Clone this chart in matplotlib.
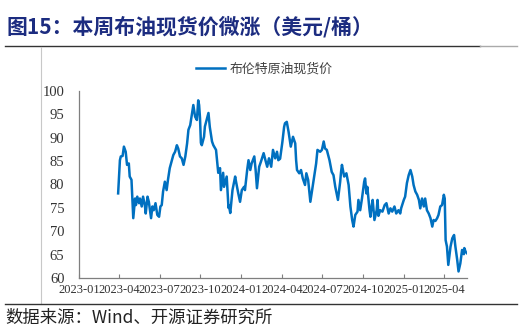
import pandas as pd
import matplotlib
matplotlib.use("Agg")
import matplotlib.pyplot as plt
import matplotlib.dates as mdates
from matplotlib.lines import Line2D

# Brent spot price (USD/bbl)
dates = [
    "2023-03-30", "2023-04-03", "2023-04-05", "2023-04-09", "2023-04-12", "2023-04-16",
    "2023-04-19", "2023-04-23", "2023-04-25", "2023-04-29", "2023-05-03", "2023-05-07",
    "2023-05-09", "2023-05-12", "2023-05-16", "2023-05-18", "2023-05-22", "2023-05-25",
    "2023-05-29", "2023-05-31", "2023-06-04", "2023-06-07", "2023-06-12", "2023-06-15",
    "2023-06-18", "2023-06-22", "2023-06-26", "2023-06-30", "2023-07-03", "2023-07-06",
    "2023-07-09", "2023-07-13", "2023-07-17", "2023-07-20", "2023-07-24", "2023-07-28",
    "2023-08-01", "2023-08-05", "2023-08-09", "2023-08-12", "2023-08-16", "2023-08-20",
    "2023-08-24", "2023-08-28", "2023-09-01", "2023-09-04", "2023-09-08", "2023-09-12",
    "2023-09-15", "2023-09-19", "2023-09-23", "2023-09-26", "2023-09-28", "2023-09-30",
    "2023-10-02", "2023-10-04", "2023-10-09", "2023-10-11", "2023-10-19", "2023-10-22",
    "2023-10-27", "2023-10-30", "2023-11-05", "2023-11-10", "2023-11-14", "2023-11-16",
    "2023-11-21", "2023-11-23", "2023-11-29", "2023-12-03", "2023-12-04", "2023-12-07",
    "2023-12-12", "2023-12-18", "2023-12-20", "2023-12-25", "2023-12-29", "2024-01-02",
    "2024-01-07", "2024-01-09", "2024-01-14", "2024-01-17", "2024-01-21", "2024-01-24",
    "2024-01-30", "2024-02-02", "2024-02-05", "2024-02-10", "2024-02-14", "2024-02-20",
    "2024-02-24", "2024-02-28", "2024-03-03", "2024-03-08", "2024-03-12", "2024-03-17",
    "2024-03-21", "2024-03-24", "2024-03-28", "2024-04-02", "2024-04-06", "2024-04-08",
    "2024-04-12", "2024-04-16", "2024-04-21", "2024-04-26", "2024-05-01", "2024-05-03",
    "2024-05-05", "2024-05-10", "2024-05-14", "2024-05-18", "2024-05-23", "2024-05-26",
    "2024-05-30", "2024-06-04", "2024-06-09", "2024-06-13", "2024-06-17", "2024-06-20",
    "2024-06-26", "2024-06-30", "2024-07-04", "2024-07-07", "2024-07-11", "2024-07-17",
    "2024-07-22", "2024-07-26", "2024-07-30", "2024-08-05", "2024-08-10", "2024-08-12",
    "2024-08-14", "2024-08-19", "2024-08-24", "2024-08-29", "2024-09-02", "2024-09-06",
    "2024-09-09", "2024-09-13", "2024-09-18", "2024-09-20", "2024-09-24", "2024-09-28",
    "2024-10-03", "2024-10-05", "2024-10-08", "2024-10-10", "2024-10-15", "2024-10-17",
    "2024-10-19", "2024-10-22", "2024-10-26", "2024-10-31", "2024-11-02", "2024-11-04",
    "2024-11-08", "2024-11-13", "2024-11-18", "2024-11-22", "2024-11-27", "2024-12-01",
    "2024-12-05", "2024-12-10", "2024-12-14", "2024-12-19", "2024-12-23", "2024-12-25",
    "2024-12-31", "2025-01-03", "2025-01-07", "2025-01-11", "2025-01-15", "2025-01-19",
    "2025-01-22", "2025-01-26", "2025-01-30", "2025-02-03", "2025-02-06", "2025-02-10",
    "2025-02-14", "2025-02-17", "2025-02-21", "2025-02-25", "2025-03-01", "2025-03-05",
    "2025-03-08", "2025-03-12", "2025-03-16", "2025-03-19", "2025-03-23", "2025-03-27",
    "2025-03-31", "2025-04-02", "2025-04-03", "2025-04-04", "2025-04-07", "2025-04-10",
    "2025-04-15", "2025-04-19", "2025-04-23", "2025-04-26", "2025-04-30", "2025-05-03",
    "2025-05-07", "2025-05-11", "2025-05-15", "2025-05-16", "2025-05-19", "2025-05-22",
]
prices = [
    78.1, 85.2, 86.0, 86.1, 88.1, 87.0,
    84.2, 84.5, 81.7, 81.0, 72.8, 77.0,
    75.6, 77.4, 76.0, 77.0, 75.3, 77.4,
    75.6, 73.8, 77.4, 76.3, 72.8, 75.3,
    74.5, 76.0, 73.5, 73.1, 75.3, 75.6,
    78.5, 80.6, 78.8, 81.0, 83.5, 84.9,
    86.3, 87.0, 88.4, 87.7, 86.0, 85.6,
    84.2, 86.0, 88.8, 91.7, 92.7, 95.2,
    97.0, 94.5, 93.8, 98.0, 97.0, 94.2,
    88.9, 88.4, 90.2, 92.4, 95.3, 92.3,
    89.2, 88.4, 87.4, 82.5, 83.5, 78.8,
    82.5, 79.5, 81.7, 75.0, 75.5, 73.9,
    78.8, 81.7, 80.6, 78.1, 76.3, 78.8,
    79.5, 78.8, 83.1, 85.2, 83.1, 84.5,
    86.0, 83.1, 79.2, 83.8, 84.9, 86.7,
    85.2, 83.8, 85.6, 83.8, 87.4, 85.6,
    87.0, 85.2, 85.5, 89.0, 92.3, 93.1,
    93.4, 91.3, 88.1, 90.2, 88.8, 85.2,
    83.1, 82.4, 83.1, 81.3, 79.9, 82.4,
    81.0, 76.3, 79.5, 82.0, 84.5, 87.4,
    87.0, 87.4, 89.2, 87.7, 87.4, 85.2,
    82.7, 82.0, 79.5, 76.7, 80.6, 82.7,
    84.2, 81.7, 82.4, 79.9, 75.3, 72.4,
    71.0, 73.5, 74.2, 76.7, 74.5, 77.0,
    80.6, 81.3, 78.1, 79.5, 74.5, 73.1,
    74.9, 76.7, 72.4, 74.5, 76.7, 73.3,
    74.5, 74.2, 75.6, 76.0, 73.8, 74.9,
    74.2, 75.3, 73.8, 74.5, 73.8, 74.9,
    76.7, 77.4, 80.3, 82.0, 83.1, 81.7,
    79.9, 78.5, 77.8, 76.7, 74.9, 77.0,
    75.3, 77.0, 74.5, 73.8, 72.8, 71.0,
    72.4, 72.2, 72.8, 73.5, 75.3, 75.6,
    77.8, 77.0, 72.4, 68.1, 66.7, 62.8,
    66.7, 68.5, 69.2, 66.7, 63.9, 61.4,
    63.1, 66.0, 65.1, 66.4, 65.6, 65.3,
]

series_name = "布伦特原油现货价"
title_text = "图15：本周布油现货价微涨（美元/桶）"
source_text = "数据来源：Wind、开源证券研究所"

x = pd.to_datetime(dates)

fig = plt.figure(figsize=(5.22, 3.31), dpi=100)
ax = fig.add_axes([0.1513, 0.1601, 0.7433, 0.565])

line_color = "#0070C0"
ax.plot(x, prices, color=line_color, linewidth=1.8, label=series_name)

ax.set_xlim(pd.Timestamp("2023-01-01"), pd.Timestamp("2025-05-22"))
ax.set_ylim(60, 100)
ax.set_yticks(range(60, 101, 5))
ax.xaxis.set_major_locator(mdates.MonthLocator(bymonth=[1, 4, 7, 10]))
ax.xaxis.set_major_formatter(mdates.DateFormatter("%Y-%m"))

for side in ("top", "right"):
    ax.spines[side].set_visible(False)
for side in ("left", "bottom"):
    ax.spines[side].set_color("#7F7F7F")
    ax.spines[side].set_linewidth(0.9)

ax.tick_params(axis="y", length=0, pad=10.5)
ax.tick_params(axis="x", direction="in", length=3, color="#7F7F7F", pad=4)
for lab in ax.get_yticklabels():
    lab.set_fontfamily("Liberation Serif")
    lab.set_fontsize(10.5)
    lab.set_color("#333333")
for lab in ax.get_xticklabels():
    lab.set_fontfamily("Liberation Serif")
    lab.set_fontsize(9)
    lab.set_color("#333333")

leg = ax.legend(loc="center", bbox_to_anchor=(0.478, 1.118), frameon=False,
                handlelength=2.2, handletextpad=0.35,
                prop={"family": ["Noto Sans CJK SC", "DejaVu Sans"], "size": 9.3})
for t in leg.get_texts():
    t.set_color("#404040")

# header, rules and footer
fig.text(7 / 522, 1 - 27 / 331, title_text, fontsize=15, fontweight="bold",
         color="#1C2C80", family=["Noto Sans CJK SC", "DejaVu Sans"],
         ha="left", va="center")
fig.add_artist(Line2D([5 / 522, 480 / 522], [1 - 46 / 331] * 2,
                      color="#333333", linewidth=1.0))
fig.add_artist(Line2D([480 / 522, 517 / 522], [1 - 46 / 331] * 2,
                      color="#AAAAAA", linewidth=1.0))
fig.add_artist(Line2D([41 / 522] * 2, [1 - 47 / 331, 1 - 304 / 331],
                      color="#C8C8C8", linewidth=0.8))
fig.add_artist(Line2D([5 / 522, 517 / 522], [1 - 304 / 331] * 2,
                      color="#333333", linewidth=1.0))
fig.text(5 / 522, 1 - 318 / 331, source_text, fontsize=12.5,
         color="#222222", family=["Noto Sans CJK SC", "DejaVu Sans"],
         ha="left", va="center")

fig.savefig("out.png", dpi=100)
